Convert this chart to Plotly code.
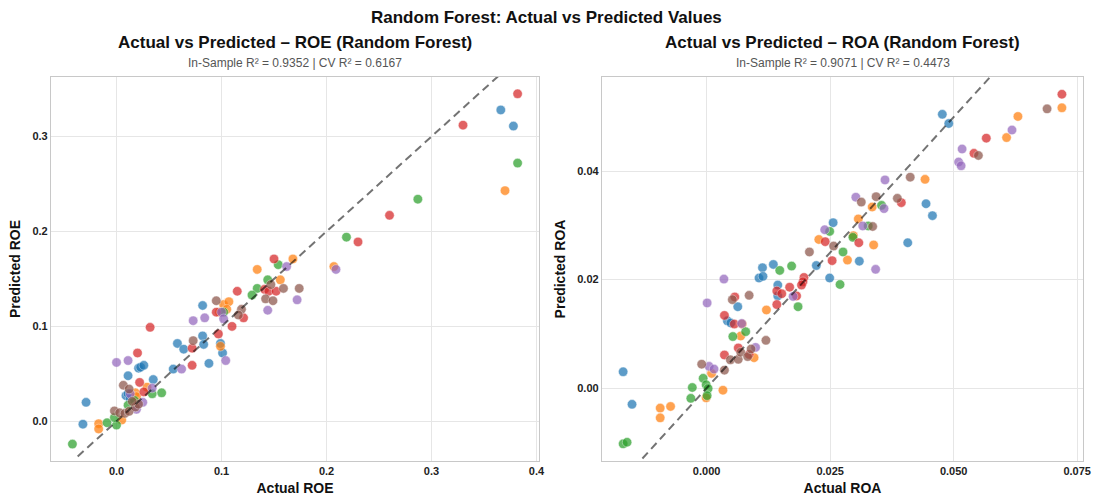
import plotly.graph_objects as go

# ---------------- data (actual, predicted) per group ----------------
groups = ["Group 1", "Group 2", "Group 3", "Group 4", "Group 5", "Group 6"]
colors = ["#1f77b4", "#ff7f0e", "#2ca02c", "#d62728", "#9467bd", "#8c564b"]

# ROE
roe_blue_act = [0.366, 0.378, 0.082, 0.082, 0.058, 0.064, 0.083, 0.099, 0.101, 0.088, 0.054, 0.021, 0.023, 0.026, 0.011, 0.035, 0.009, 0.011, -0.029, -0.032, 0.013]
roe_blue_pred = [0.328, 0.311, 0.122, 0.090, 0.082, 0.076, 0.081, 0.082, 0.072, 0.061, 0.055, 0.056, 0.057, 0.059, 0.048, 0.044, 0.027, 0.029, 0.020, -0.003, 0.024]
roe_orange_act = [0.370, 0.168, 0.207, 0.134, 0.156, 0.102, 0.107, 0.098, 0.105, 0.099, 0.029, 0.018, -0.017, -0.017, 0.005, 0.019]
roe_orange_pred = [0.243, 0.171, 0.163, 0.160, 0.149, 0.123, 0.126, 0.115, 0.118, 0.079, 0.036, 0.030, -0.0025, -0.008, 0.0014, 0.026]
roe_green_act = [0.382, 0.287, 0.219, 0.154, 0.144, 0.134, 0.129, 0.102, 0.034, 0.043, -0.042, -0.009, 0.000, -0.002, 0.011, 0.017]
roe_green_pred = [0.272, 0.234, 0.194, 0.165, 0.149, 0.140, 0.133, 0.115, 0.029, 0.030, -0.024, -0.0015, -0.004, 0.004, 0.017, 0.022]
roe_red_act = [0.382, 0.330, 0.260, 0.230, 0.150, 0.141, 0.145, 0.152, 0.115, 0.095, 0.121, 0.110, 0.097, 0.072, 0.072, 0.032, 0.020, 0.022, 0.026]
roe_red_pred = [0.345, 0.312, 0.217, 0.189, 0.171, 0.139, 0.137, 0.137, 0.137, 0.115, 0.109, 0.100, 0.092, 0.077, 0.059, 0.099, 0.072, 0.041, 0.031]
roe_purple_act = [0.209, 0.162, 0.172, 0.144, 0.100, 0.084, 0.073, 0.102, 0.104, 0.062, 0.000, 0.011, 0.034, 0.019, 0.025, 0.013]
roe_purple_pred = [0.160, 0.163, 0.128, 0.117, 0.115, 0.109, 0.106, 0.108, 0.064, 0.055, 0.062, 0.064, 0.035, 0.0126, 0.020, 0.029]
roe_brown_act = [0.174, 0.147, 0.159, 0.142, 0.149, 0.095, 0.119, 0.116, 0.073, 0.0065, 0.012, -0.002, 0.003, 0.008, 0.012, 0.018, 0.021, 0.015]
roe_brown_pred = [0.140, 0.144, 0.140, 0.129, 0.127, 0.127, 0.118, 0.112, 0.085, 0.038, 0.034, 0.011, 0.009, 0.0084, 0.0105, 0.015, 0.018, 0.021]

# ROA
roa_blue_act = [0.0477, 0.0490, 0.0444, 0.0457, 0.0407, 0.0256, 0.0309, 0.0249, 0.0222, 0.0113, 0.0135, 0.0106, 0.0114, 0.0144, 0.0144, 0.0063, 0.0042, 0.0049, -0.0169, -0.0151]
roa_blue_pred = [0.0505, 0.0488, 0.0340, 0.0318, 0.0268, 0.0305, 0.0234, 0.0203, 0.0226, 0.0222, 0.0228, 0.0203, 0.0206, 0.0190, 0.0170, 0.0150, 0.0124, 0.0120, 0.0030, -0.0030]
roa_orange_act = [0.0719, 0.0630, 0.0607, 0.0442, 0.0335, 0.0307, 0.0297, 0.0338, 0.0285, 0.0227, 0.0121, 0.0069, 0.0096, 0.0010, 0.0033, -0.0001, -0.0094, -0.0094, -0.0073, 0.0072]
roa_orange_pred = [0.0517, 0.0501, 0.0462, 0.0385, 0.0334, 0.0312, 0.0281, 0.0264, 0.0236, 0.0274, 0.0144, 0.0096, 0.0056, 0.0027, -0.0004, -0.0018, -0.0037, -0.0055, -0.0034, 0.0118]
roa_green_act = [0.0354, 0.0327, 0.0249, 0.0296, 0.0276, 0.0270, 0.0148, 0.0172, 0.0185, 0.0079, 0.0053, -0.0169, -0.0161, -0.0032, -0.0029, -0.0007, -0.0001, 0.0003, 0.0001]
roa_green_pred = [0.0337, 0.0299, 0.0289, 0.0278, 0.0251, 0.0191, 0.0217, 0.0225, 0.0150, 0.0104, 0.0095, -0.0103, -0.0100, -0.0019, 0.0001, 0.0018, 0.0006, -0.0001, -0.0014]
roa_red_act = [0.0719, 0.0566, 0.0541, 0.0394, 0.0308, 0.0254, 0.0240, 0.0197, 0.0195, 0.0192, 0.0168, 0.0142, 0.0152, 0.0182, 0.0142, 0.0057, 0.0036, 0.0056, 0.0036, 0.0064, 0.0086]
roa_red_pred = [0.0542, 0.0461, 0.0433, 0.0342, 0.0268, 0.0235, 0.0270, 0.0204, 0.0196, 0.0190, 0.0186, 0.0179, 0.0174, 0.0170, 0.0154, 0.0168, 0.0134, 0.0118, 0.0061, 0.0074, 0.0062]
roa_purple_act = [0.0618, 0.0517, 0.0510, 0.0515, 0.0361, 0.0302, 0.0359, 0.0316, 0.0342, 0.0239, 0.0035, 0.0175, 0.0071, 0.0001, 0.0005, 0.0015, 0.0099]
roa_purple_pred = [0.0476, 0.0441, 0.0417, 0.0410, 0.0384, 0.0352, 0.0331, 0.0299, 0.0219, 0.0292, 0.0201, 0.0169, 0.0119, 0.0157, 0.0040, 0.0035, 0.0075]
roa_brown_act = [0.0689, 0.0550, 0.0412, 0.0313, 0.0343, 0.0386, 0.0336, 0.0257, 0.0208, 0.0086, 0.0052, 0.0120, -0.0010, 0.0036, 0.0048, 0.0064, 0.0069, 0.0083, 0.0090]
roa_brown_pred = [0.0515, 0.0429, 0.0389, 0.0343, 0.0353, 0.0350, 0.0298, 0.0262, 0.0251, 0.0171, 0.0163, 0.0088, 0.0044, 0.0033, 0.0052, 0.0053, 0.0066, 0.0058, 0.0072]

roe_line = [-0.037, 0.40]
roa_line = [-0.013, 0.075]

roe_titles = ["Actual vs Predicted – ROE (Random Forest)", "In-Sample R² = 0.9352 | CV R² = 0.6167"]
roa_titles = ["Actual vs Predicted – ROA (Random Forest)", "In-Sample R² = 0.9071 | CV R² = 0.4473"]
main_title = "Random Forest: Actual vs Predicted Values"

roe_sets = [(roe_blue_act, roe_blue_pred), (roe_orange_act, roe_orange_pred), (roe_green_act, roe_green_pred),
            (roe_red_act, roe_red_pred), (roe_purple_act, roe_purple_pred), (roe_brown_act, roe_brown_pred)]
roa_sets = [(roa_blue_act, roa_blue_pred), (roa_orange_act, roa_orange_pred), (roa_green_act, roa_green_pred),
            (roa_red_act, roa_red_pred), (roa_purple_act, roa_purple_pred), (roa_brown_act, roa_brown_pred)]

FONT = "Arial, Liberation Sans, sans-serif"
fig = go.Figure()

for i, (a, p) in enumerate(roe_sets):
    fig.add_trace(go.Scatter(x=a, y=p, mode="markers", name=groups[i], showlegend=False,
                             marker=dict(size=9.5, color=colors[i], opacity=0.72,
                                         line=dict(width=0.5, color="white")),
                             xaxis="x", yaxis="y"))
fig.add_trace(go.Scatter(x=roe_line, y=roe_line, mode="lines", showlegend=False,
                         line=dict(color="rgba(0,0,0,0.55)", width=2, dash="8px,5px"),
                         xaxis="x", yaxis="y"))

for i, (a, p) in enumerate(roa_sets):
    fig.add_trace(go.Scatter(x=a, y=p, mode="markers", name=groups[i], showlegend=False,
                             marker=dict(size=9.5, color=colors[i], opacity=0.72,
                                         line=dict(width=0.5, color="white")),
                             xaxis="x2", yaxis="y2"))
fig.add_trace(go.Scatter(x=roa_line, y=roa_line, mode="lines", showlegend=False,
                         line=dict(color="rgba(0,0,0,0.55)", width=2, dash="8px,5px"),
                         xaxis="x2", yaxis="y2"))

axis_common = dict(showgrid=True, gridcolor="#e6e6e6", gridwidth=1, zeroline=False,
                   showline=True, linecolor="#c8c8c8", linewidth=1.2, mirror=True, automargin=False,
                   ticks="", tickfont=dict(family=FONT, size=11, color="#222", weight="bold"),
                   title_font=dict(family=FONT, size=14, color="#111", weight="bold"))

fig.update_layout(
    width=1096, height=497,
    margin=dict(l=51, r=13, t=77, b=36),
    paper_bgcolor="white", plot_bgcolor="white",
    font=dict(family=FONT),
    xaxis=dict(domain=[0, 0.4729], anchor="y", range=[-0.0624, 0.4024], tickvals=[0.0, 0.1, 0.2, 0.3, 0.4],
               tickformat=".1f", title=dict(text="Actual ROE", standoff=6), **axis_common),
    yaxis=dict(domain=[0, 1], anchor="x", range=[-0.0418, 0.3627], tickvals=[0.0, 0.1, 0.2, 0.3],
               tickformat=".1f", title=dict(text="Predicted ROE", standoff=8), **axis_common),
    xaxis2=dict(domain=[0.5339, 1], anchor="y2", range=[-0.02118, 0.07617], tickvals=[0.0, 0.025, 0.05, 0.075],
                tickformat=".3f", title=dict(text="Actual ROA", standoff=6), **axis_common),
    yaxis2=dict(domain=[0, 1], anchor="x2", range=[-0.01346, 0.05738], tickvals=[0.0, 0.02, 0.04],
                tickformat=".2f", title=dict(text="Predicted ROA", standoff=8), **axis_common),
)

annotations = [
    dict(text=main_title, x=0.4797, y=1.156, xref="paper", yref="paper", showarrow=False,
         font=dict(family=FONT, size=17, color="#111", weight="bold"), xanchor="center", yanchor="middle"),
    dict(text=roe_titles[0], x=0.2364, y=1.091, xref="paper", yref="paper", showarrow=False,
         font=dict(family=FONT, size=17, color="#111", weight="bold"), xanchor="center", yanchor="middle"),
    dict(text=roe_titles[1], x=0.2364, y=1.036, xref="paper", yref="paper", showarrow=False,
         font=dict(family=FONT, size=12, color="#555"), xanchor="center", yanchor="middle"),
    dict(text=roa_titles[0], x=0.767, y=1.091, xref="paper", yref="paper", showarrow=False,
         font=dict(family=FONT, size=17, color="#111", weight="bold"), xanchor="center", yanchor="middle"),
    dict(text=roa_titles[1], x=0.767, y=1.036, xref="paper", yref="paper", showarrow=False,
         font=dict(family=FONT, size=12, color="#555"), xanchor="center", yanchor="middle"),
]
fig.update_layout(annotations=annotations)

fig.write_html("out.html")
